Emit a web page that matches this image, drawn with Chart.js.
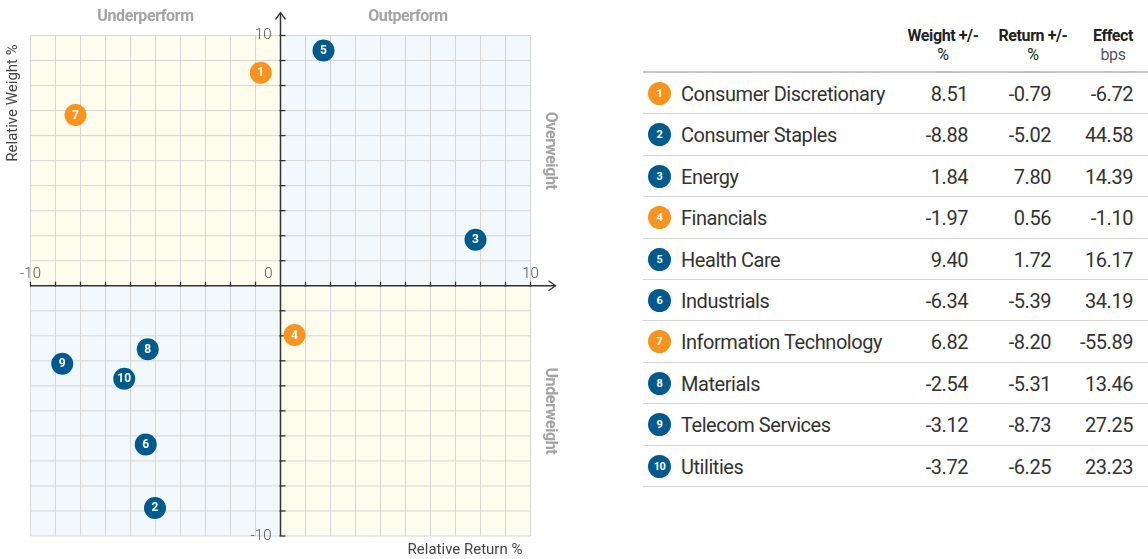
<!DOCTYPE html>
<html>
<head>
<meta charset="utf-8">
<script src="https://cdn.jsdelivr.net/npm/chart.js@4/dist/chart.umd.min.js"></script>
<style>
  body { margin: 0; background: #fff; font-family: Roboto, "Noto Sans", sans-serif; }
  #wrap { position: relative; width: 1148px; height: 559px; overflow: hidden; }
  #plot { position: absolute; left: 0; top: 0; }
  #tbl { position: absolute; left: 643px; top: 0; width: 505px; height: 559px; color: #333; }
  .hd { position: absolute; text-align: center; font-size: 16px; line-height: 19px; color: #222; width: 100px; letter-spacing: -0.4px; }
  .hd b { font-weight: 700; }
  .hd span { color: #555; }
  .rule { position: absolute; left: 0; right: 0; height: 2px; background: #c4c4c4; }
  .row { position: absolute; left: 0; right: 0; height: 41.4px; border-bottom: 1.5px solid #d4d4d4; box-sizing: border-box; font-size: 20px; letter-spacing: -0.45px; }
  .row div { position: absolute; top: 0; height: 40px; line-height: 42px; white-space: nowrap; }
  .dot { width: 23px; height: 23px !important; border-radius: 50%; color: #fff; font-weight: 700; font-size: 11px; text-align: center; line-height: 23px !important; top: 9px !important; letter-spacing: -0.5px; }
  .num { text-align: right; width: 100px; }
</style>
</head>
<body>
<div id="wrap">
  <canvas id="plot" width="600" height="559"></canvas>
  <div id="tbl"></div>
</div>
<script>
// --- datos ---
const sectores = ["Consumer Discretionary", "Consumer Staples", "Energy", "Financials", "Health Care",
  "Industrials", "Information Technology", "Materials", "Telecom Services", "Utilities"];
const pesoRel = [8.51, -8.88, 1.84, -1.97, 9.40, -6.34, 6.82, -2.54, -3.12, -3.72];     // Weight +/- %
const retornoRel = [-0.79, -5.02, 7.80, 0.56, 1.72, -5.39, -8.20, -5.31, -8.73, -6.25]; // Return +/- %
const efecto = [-6.72, 44.58, 14.39, -1.10, 16.17, 34.19, -55.89, 13.46, 27.25, 23.23];  // Effect bps
const ticksEje = [-10, 0, 10];

const NARANJA = "#f7931e";
const AZUL = "#005a8e";
const colores = efecto.map(e => e < 0 ? NARANJA : AZUL);

// --- tabla ---
const tbl = document.getElementById("tbl");
let html = "";
html += '<div class="hd" style="left:250px;top:26px"><b>Weight +/-</b><br>%</div>';
html += '<div class="hd" style="left:340px;top:26px"><b>Return +/-</b><br>%</div>';
html += '<div class="hd" style="left:420px;top:26px"><b>Effect</b><br><span>bps</span></div>';
html += '<div class="rule" style="top:71px"></div>';
sectores.forEach((s, i) => {
  const top = 73 + i * 41.4;
  html += '<div class="row" style="top:' + top + 'px">' +
    '<div class="dot" style="left:5px;background:' + colores[i] + '">' + (i + 1) + '</div>' +
    '<div style="left:38px">' + s + '</div>' +
    '<div class="num" style="left:225px">' + pesoRel[i].toFixed(2) + '</div>' +
    '<div class="num" style="left:308px">' + retornoRel[i].toFixed(2) + '</div>' +
    '<div class="num" style="left:390px">' + efecto[i].toFixed(2) + '</div>' +
    '</div>';
});
tbl.innerHTML = html;

// --- cuadrantes, rejilla y ejes ---
const fondoPlugin = {
  id: "fondo",
  beforeDatasetsDraw(chart) {
    const ctx = chart.ctx;
    const xs = chart.scales.x, ys = chart.scales.y;
    const x0 = xs.getPixelForValue(0), y0 = ys.getPixelForValue(0);
    const L = xs.getPixelForValue(-10), R = xs.getPixelForValue(10);
    const T = ys.getPixelForValue(10), B = ys.getPixelForValue(-10);
    ctx.save();
    // cuadrantes
    ctx.fillStyle = "#fefcec"; ctx.fillRect(L, T, x0 - L, y0 - T);
    ctx.fillRect(x0, y0, R - x0, B - y0);
    ctx.fillStyle = "#f2f8fc"; ctx.fillRect(x0, T, R - x0, y0 - T);
    ctx.fillRect(L, y0, x0 - L, B - y0);
    // rejilla
    ctx.strokeStyle = "#d6d6d6"; ctx.lineWidth = 1;
    for (let v = -10; v <= 10; v++) {
      if (v === 0) continue;
      const px = xs.getPixelForValue(v), py = ys.getPixelForValue(v);
      ctx.beginPath(); ctx.moveTo(px, T); ctx.lineTo(px, B); ctx.stroke();
      ctx.beginPath(); ctx.moveTo(L, py); ctx.lineTo(R, py); ctx.stroke();
    }
    // ejes
    ctx.strokeStyle = "#333"; ctx.lineWidth = 1.5;
    ctx.beginPath(); ctx.moveTo(x0, B); ctx.lineTo(x0, T - 23); ctx.stroke();
    ctx.beginPath(); ctx.moveTo(L, y0); ctx.lineTo(R + 25, y0); ctx.stroke();
    // flechas
    ctx.lineWidth = 1.3;
    ctx.beginPath(); ctx.moveTo(x0 - 5, T - 16); ctx.lineTo(x0, T - 23); ctx.lineTo(x0 + 5, T - 16); ctx.stroke();
    ctx.beginPath(); ctx.moveTo(R + 18, y0 - 5); ctx.lineTo(R + 25, y0); ctx.lineTo(R + 18, y0 + 5); ctx.stroke();
    // marcas
    for (let v = -10; v <= 10; v++) {
      if (v === 0) continue;
      const px = xs.getPixelForValue(v), py = ys.getPixelForValue(v);
      ctx.beginPath(); ctx.moveTo(px, y0 - 4); ctx.lineTo(px, y0 + 1); ctx.stroke();
      ctx.beginPath(); ctx.moveTo(x0 - 1, py); ctx.lineTo(x0 + 5, py); ctx.stroke();
    }
    // etiquetas de marcas
    ctx.fillStyle = "#555"; ctx.font = "300 15px Roboto";
    ctx.textBaseline = "middle";
    ticksEje.forEach(v => {
      if (v === 0) return;
      ctx.textAlign = "center";
      ctx.fillText(String(v), xs.getPixelForValue(v), y0 - 12);
      ctx.textAlign = "right";
      ctx.fillText(String(v), x0 - 9, ys.getPixelForValue(v));
    });
    ctx.textAlign = "right";
    ctx.fillText("0", x0 - 8, y0 - 12);
    // titulos de cuadrante
    ctx.fillStyle = "#a3a3a3"; ctx.font = "bold 16px Roboto";
    ctx.letterSpacing = "-0.4px";
    ctx.textAlign = "center";
    ctx.fillText("Underperform", xs.getPixelForValue(-5.4), 17);
    ctx.fillText("Outperform", xs.getPixelForValue(5.1), 17);
    ctx.save();
    ctx.translate(R + 19, ys.getPixelForValue(5.4)); ctx.rotate(Math.PI / 2);
    ctx.fillText("Overweight", 0, 0);
    ctx.restore();
    ctx.save();
    ctx.translate(R + 19, ys.getPixelForValue(-5)); ctx.rotate(Math.PI / 2);
    ctx.fillText("Underweight", 0, 0);
    ctx.restore();
    // titulos de ejes
    ctx.fillStyle = "#444"; ctx.font = "15px Roboto";
    ctx.letterSpacing = "0px";
    ctx.save();
    ctx.translate(13, 103); ctx.rotate(-Math.PI / 2);
    ctx.fillText("Relative Weight %", 0, 0);
    ctx.restore();
    ctx.fillText("Relative Return %", 465, 550);
    ctx.restore();
  }
};

const numerosPlugin = {
  id: "numeros",
  afterDatasetsDraw(chart) {
    const ctx = chart.ctx;
    const meta = chart.getDatasetMeta(0);
    ctx.save();
    ctx.fillStyle = "#fff"; ctx.font = "bold 12px Roboto";
    ctx.textAlign = "center"; ctx.textBaseline = "middle";
    meta.data.forEach((pt, i) => {
      ctx.fillText(String(i + 1), pt.x, pt.y + 0.5);
    });
    ctx.restore();
  }
};

new Chart(document.getElementById("plot"), {
  type: "scatter",
  data: {
    datasets: [{
      data: sectores.map((s, i) => ({ x: retornoRel[i], y: pesoRel[i] })),
      backgroundColor: colores,
      borderWidth: 0,
      pointRadius: 11,
      pointHoverRadius: 11
    }]
  },
  options: {
    responsive: false,
    animation: false,
    devicePixelRatio: 1,
    layout: { padding: { left: 30.5, right: 69.5, top: 35.5, bottom: 23 } },
    plugins: { legend: { display: false }, tooltip: { enabled: false } },
    scales: {
      x: { display: false, min: -10, max: 10 },
      y: { display: false, min: -10, max: 10 }
    }
  },
  plugins: [fondoPlugin, numerosPlugin]
});
</script>
</body>
</html>
